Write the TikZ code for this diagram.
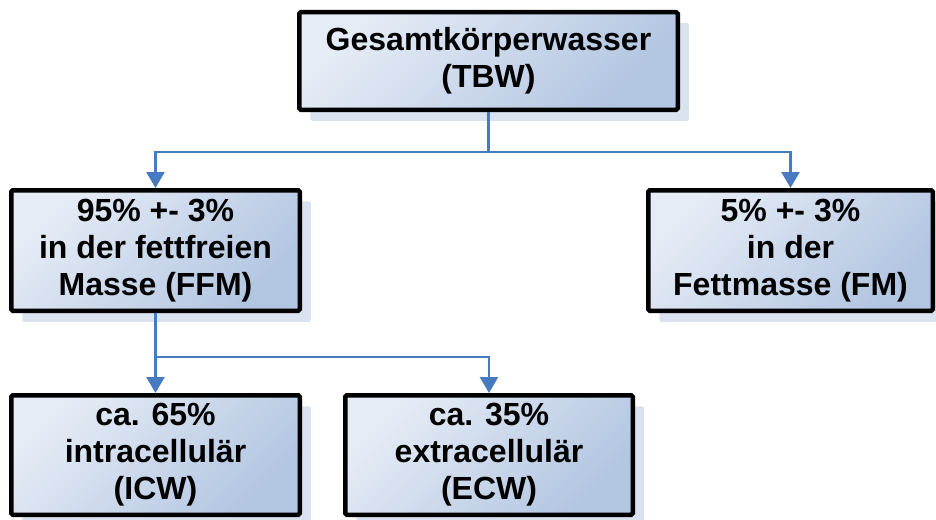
\documentclass[tikz,border=0pt]{standalone}
\usepackage{fontspec}
\setmainfont{Liberation Sans}
\usetikzlibrary{arrows.meta,shadows}
\definecolor{boxlight}{RGB}{230,236,246}
\definecolor{boxdark}{RGB}{178,197,225}
\definecolor{shadowc}{RGB}{218,226,240}
\definecolor{connc}{RGB}{72,122,192}
\tikzset{
  box/.style={draw=black, line width=4.5pt, rounded corners=1.5pt, inner sep=0pt,
    top color=boxlight, bottom color=boxdark, shading angle=45, align=center,
    font=\bfseries\fontsize{32}{37}\selectfont,
    drop shadow={shadow xshift=11pt, shadow yshift=-11pt, fill=shadowc, opacity=1}},
  conn/.style={draw=connc, line width=2.6pt, -{Triangle[width=18pt,length=16pt]}},
  plainconn/.style={draw=connc, line width=2.6pt}
}
\begin{document}
\begin{tikzpicture}[x=1pt,y=-1pt]
\useasboundingbox (0,0) rectangle (936,519);
\node[box, minimum width=378.5pt, minimum height=97.5pt] (tbw) at (488.5,61) {Gesamtkörperwasser\\(TBW)};
\node[box, minimum width=288.5pt, minimum height=120.5pt] (ffm) at (155.5,250.5) {95\% +- 3\%\\in der fettfreien\\Masse (FFM)};
\node[box, minimum width=284.5pt, minimum height=120.5pt] (fm) at (790.5,250.5) {5\% +- 3\%\\in der\\Fettmasse (FM)};
\node[box, minimum width=288.5pt, minimum height=119.5pt] (icw) at (155.5,455) {ca. 65\%\\intracellulär\\(ICW)};
\node[box, minimum width=287.5pt, minimum height=119.5pt] (ecw) at (489,455) {ca. 35\%\\extracellulär\\(ECW)};
\coordinate (j1) at ([yshift=-40pt]tbw.south);
\coordinate (j2) at ([yshift=-44pt]ffm.south);
\draw[plainconn] (tbw.south) -- (j1);
\draw[conn] (j1) -| (ffm.north);
\draw[conn] (j1) -| (fm.north);
\draw[plainconn] (ffm.south) -- (j2);
\draw[conn] (j2) -- (icw.north);
\draw[conn] (j2) -| (ecw.north);
\end{tikzpicture}
\end{document}
